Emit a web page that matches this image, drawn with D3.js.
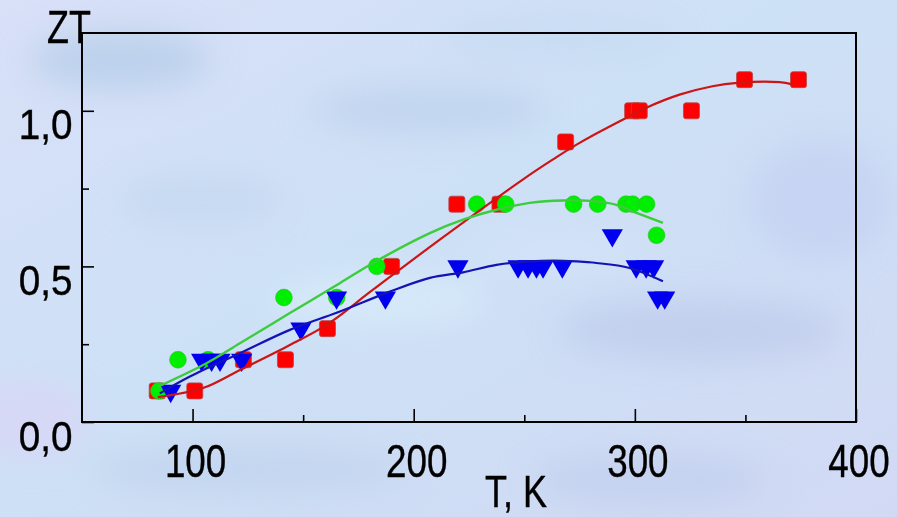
<!DOCTYPE html>
<html><head><meta charset="utf-8">
<script src="https://cdn.jsdelivr.net/npm/d3@7"></script>
<style>html,body{margin:0;padding:0;overflow:hidden;background:#d0e0f5}</style>
</head><body><svg id="c" width="897" height="517"></svg>
<script>
// ---- axis ticks ----
const xTicks = [100, 200, 300, 400];
const xTickLabels = ["100", "200", "300", "400"];
const xMinor = [150, 250, 350];
const yTicks = [0, 0.5, 1.0];
const yTickLabels = ["0,0", "0,5", "1,0"];
const yMinor = [0.25, 0.75];

// ---- measured points ----
const redT  = [84, 101, 123, 142, 161, 190, 219.5, 239, 268.7, 299, 302, 325.6, 349.6, 374];
const redZT = [0.1, 0.1, 0.2, 0.2, 0.3, 0.5, 0.7, 0.7, 0.9, 1.0, 1.0, 1.0, 1.1, 1.1];

const greenT  = [84.8, 93.4, 107, 141.3, 165.2, 183.3, 228.5, 241.6, 272.3, 283.2, 296, 299, 305.3, 309.8];
const greenZT = [0.1, 0.2, 0.2, 0.4, 0.4, 0.5, 0.7, 0.7, 0.7, 0.7, 0.7, 0.7, 0.7, 0.6];

const blueT  = [90.1, 104.1, 108.6, 112.4, 122.2, 149, 165.1, 187.2, 220, 247.2, 251.7, 255.5, 258.5, 267.2, 289.8, 300.6, 305.1, 308.5, 310.3, 313.5];
const blueZT = [0.1, 0.2, 0.2, 0.2, 0.2, 0.3, 0.4, 0.4, 0.5, 0.5, 0.5, 0.5, 0.5, 0.5, 0.6, 0.5, 0.5, 0.5, 0.4, 0.4];

// ---- fitted curves ----
const redFitT  = [84.3, 104.7, 121.4, 142.5, 160.6, 181.6, 211.8, 249.3, 262.8, 275, 296.1, 305.2, 320.2, 335.1, 346.4, 365.4, 371.3];
const redFitZT = [0.080, 0.109, 0.167, 0.242, 0.312, 0.425, 0.586, 0.779, 0.843, 0.897, 0.977, 1.010, 1.052, 1.079, 1.090, 1.092, 1.085];

const greenFitT  = [84.5, 106.3, 121.4, 144, 166.6, 181.6, 207.3, 222.3, 237.4, 252.4, 267.5, 282.6, 291.6, 300.7, 312.7];
const greenFitZT = [0.114, 0.189, 0.253, 0.350, 0.446, 0.511, 0.607, 0.650, 0.682, 0.704, 0.712, 0.709, 0.698, 0.672, 0.640];

const blueFitT  = [85.2, 98.8, 121.4, 144, 166.6, 189.2, 207.3, 222.3, 237.4, 252.4, 267.5, 282.6, 297.6, 312.7];
const blueFitZT = [0.092, 0.146, 0.221, 0.296, 0.355, 0.419, 0.463, 0.481, 0.505, 0.516, 0.518, 0.511, 0.495, 0.452];

const svg = d3.select("#c");
const W = 897, H = 517;
const FONT = "'Liberation Sans', Arial, sans-serif";

// ---- background ----
const defs = svg.append("defs");
const lg = defs.append("linearGradient").attr("id", "bg").attr("x1", 0).attr("y1", 0).attr("x2", 1).attr("y2", 1);
lg.append("stop").attr("offset", "0%").attr("stop-color", "#d9e0f8");
lg.append("stop").attr("offset", "45%").attr("stop-color", "#cde1f6");
lg.append("stop").attr("offset", "100%").attr("stop-color", "#d2d9f4");
defs.append("filter").attr("id", "blur").attr("x", "-50%").attr("y", "-50%").attr("width", "200%").attr("height", "200%")
  .append("feGaussianBlur").attr("stdDeviation", 16);
svg.append("rect").attr("width", W).attr("height", H).attr("fill", "url(#bg)");
const blobs = [[120,60,90,30,"#b9cfea"],[430,110,120,25,"#c0d4ee"],[700,330,140,30,"#c0ccec"],[250,470,160,25,"#c2d5ee"],
  [820,200,70,60,"#c6d2f2"],[30,420,60,40,"#d8d6f6"],[560,40,120,20,"#c5daf2"],[380,300,110,30,"#d6eaf9"],[650,480,120,25,"#c2d0ee"],
  [200,200,80,25,"#c4d8f0"],[560,250,90,20,"#d4e4f8"]];
svg.append("g").attr("filter", "url(#blur)").selectAll("ellipse").data(blobs).join("ellipse")
  .attr("cx", d => d[0]).attr("cy", d => d[1]).attr("rx", d => d[2]).attr("ry", d => d[3]).attr("fill", d => d[4]).attr("opacity", 0.85);

// ---- scales ----
const x = d3.scaleLinear().domain([50, 400]).range([82, 856]);
const y = d3.scaleLinear().domain([0, 1.25]).range([422, 33]);

// ---- axes ----
const gx = svg.append("g").attr("transform", `translate(0,${y(0)})`)
  .call(d3.axisBottom(x).tickValues(xTicks).tickSize(-13).tickSizeOuter(0)
    .tickFormat((d, i) => xTickLabels[i]));
gx.select(".domain").remove();
gx.selectAll("line").attr("stroke", "#000").attr("stroke-width", 1.6);
gx.selectAll("text").attr("y", 55).attr("dy", 0)
  .attr("font-family", FONT).attr("font-size", 46).attr("fill", "#000")
  .attr("stroke", "#000").attr("stroke-width", 0.4)
  .attr("transform", "scale(0.8,1)").attr("x", 2.5 / 0.8);

const gxm = svg.append("g").attr("transform", `translate(0,${y(0)})`)
  .call(d3.axisBottom(x).tickValues(xMinor).tickSize(-7).tickSizeOuter(0).tickFormat(""));
gxm.select(".domain").remove();
gxm.selectAll("line").attr("stroke", "#000").attr("stroke-width", 1.6);

const gy = svg.append("g").attr("transform", `translate(${x(50)},0)`)
  .call(d3.axisLeft(y).tickValues(yTicks).tickSize(-12).tickSizeOuter(0)
    .tickFormat((d, i) => yTickLabels[i]));
gy.select(".domain").remove();
gy.selectAll("line").attr("stroke", "#000").attr("stroke-width", 1.6);
gy.selectAll("text").attr("dy", 0).attr("y", 28)
  .attr("font-family", FONT).attr("font-size", 43).attr("fill", "#000")
  .attr("stroke", "#000").attr("stroke-width", 0.4)
  .attr("transform", "scale(0.9,1)").attr("x", -9.5 / 0.9);

const gym = svg.append("g").attr("transform", `translate(${x(50)},0)`)
  .call(d3.axisLeft(y).tickValues(yMinor).tickSize(-7).tickSizeOuter(0).tickFormat(""));
gym.select(".domain").remove();
gym.selectAll("line").attr("stroke", "#000").attr("stroke-width", 1.6);

// frame
svg.append("rect").attr("x", x(50)).attr("y", y(1.25))
  .attr("width", x(400) - x(50)).attr("height", y(0) - y(1.25))
  .attr("fill", "none").attr("stroke", "#000").attr("stroke-width", 2);

// axis titles
svg.append("text").attr("transform", `translate(47,43) scale(0.78,1)`)
  .attr("font-family", FONT).attr("font-size", 46).attr("fill", "#000")
  .attr("stroke", "#000").attr("stroke-width", 0.4).text("ZT");
svg.append("text").attr("transform", `translate(516,507) scale(0.8,1)`)
  .attr("text-anchor", "middle")
  .attr("font-family", FONT).attr("font-size", 45).attr("fill", "#000")
  .attr("stroke", "#000").attr("stroke-width", 0.4).text("T, K");

// ---- markers ----
const red = redT.map((t, i) => ({t, v: redZT[i]}));
const green = greenT.map((t, i) => ({t, v: greenZT[i]}));
const blue = blueT.map((t, i) => ({t, v: blueZT[i]}));

svg.append("g").selectAll("rect").data(red).join("rect")
  .attr("x", d => x(d.t) - 8).attr("y", d => y(d.v) - 8)
  .attr("width", 16).attr("height", 16).attr("rx", 2.5)
  .attr("fill", "#ff0000").attr("stroke", "#b84848").attr("stroke-width", 0.8);

svg.append("g").selectAll("circle").data(green).join("circle")
  .attr("cx", d => x(d.t)).attr("cy", d => y(d.v)).attr("r", 8.4)
  .attr("fill", "#00ee00").attr("stroke", "#30c030").attr("stroke-width", 0.6);

const tri = d3.symbol(d3.symbolTriangle).size(195);
svg.append("g").selectAll("path").data(blue).join("path")
  .attr("d", tri)
  .attr("transform", d => `translate(${x(d.t)},${y(d.v)}) rotate(180)`)
  .attr("fill", "#0000ee");

// ---- fitted curves ----
const line = d3.line().x(d => x(d[0])).y(d => y(d[1])).curve(d3.curveCatmullRom.alpha(0.5));
svg.append("path").datum(redFitT.map((t, i) => [t, redFitZT[i]])).attr("d", line)
  .attr("fill", "none").attr("stroke", "#cc1515").attr("stroke-width", 2.2);
svg.append("path").datum(greenFitT.map((t, i) => [t, greenFitZT[i]])).attr("d", line)
  .attr("fill", "none").attr("stroke", "#3ccc3c").attr("stroke-width", 2.4);
svg.append("path").datum(blueFitT.map((t, i) => [t, blueFitZT[i]])).attr("d", line)
  .attr("fill", "none").attr("stroke", "#1414b4").attr("stroke-width", 2.2);
</script>
</body></html>
